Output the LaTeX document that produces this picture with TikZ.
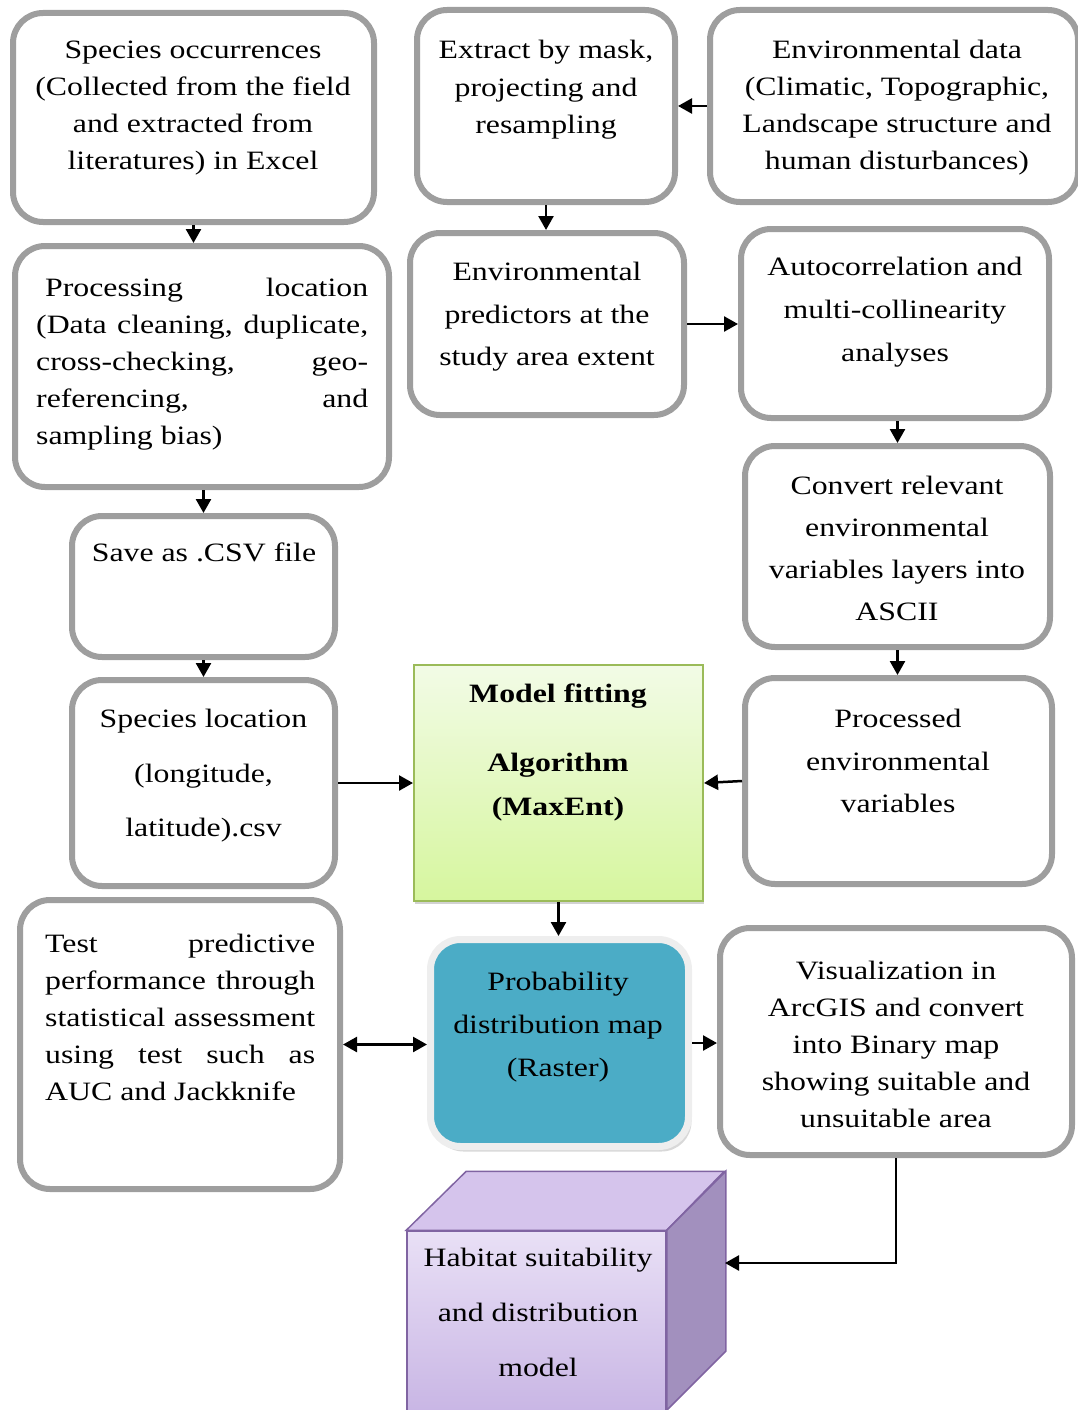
\documentclass[tikz,border=0pt]{standalone}
\usepackage{fontspec}
\setmainfont{Liberation Serif}[FakeStretch=1.2]
\usepackage{tikz}
\usetikzlibrary{arrows.meta}
\usetikzlibrary{shadows}
\definecolor{boxgray}{RGB}{158,158,158}
\definecolor{modelgreen}{RGB}{155,187,89}
\definecolor{modeltop}{RGB}{242,251,230}
\definecolor{modelbottom}{RGB}{214,246,158}
\definecolor{probteal}{RGB}{75,172,198}
\definecolor{probframe}{RGB}{238,238,238}
\definecolor{cubeedge}{RGB}{128,100,162}
\definecolor{cubetop}{RGB}{213,196,236}
\definecolor{cubeside}{RGB}{162,144,190}
\definecolor{cubelight}{RGB}{233,224,246}
\definecolor{cubedark}{RGB}{200,181,228}
\newcommand{\boxfont}[1][37]{\fontsize{26.5}{#1}\selectfont}
\newcommand{\jline}[2]{\makebox[#1][s]{#2}}
\tikzset{
    box/.style={draw=boxgray, line width=6pt, rounded corners=30pt, fill=white},
    txt/.style={anchor=north, inner sep=0pt, align=center, font=\boxfont},
    jtxt/.style={anchor=north west, inner sep=0pt, align=left, font=\boxfont},
    model/.style={draw=modelgreen, line width=2pt, top color=modeltop, bottom color=modelbottom,
        drop shadow={shadow xshift=1pt, shadow yshift=-3pt, fill=black!35}},
    prob/.style={draw=probframe, line width=7pt, rounded corners=30pt, fill=probteal,
        drop shadow={shadow xshift=3pt, shadow yshift=-5pt, fill=black!30}},
    cube/.style={draw=cubeedge, line width=1.5pt},
    link/.style={->, line width=2.5pt},
    dlink/.style={<->, line width=2.5pt}
}

\begin{document}
\begin{tikzpicture}[x=1pt, y=-1pt, >={Triangle[length=14pt, width=15pt]}]
    \useasboundingbox (0,0) rectangle (1078,1410);

    % boxes
    \node[box, minimum width=361pt, minimum height=209pt] (occ) at (193.5,117.5) {};
    \node[box, minimum width=258pt, minimum height=192pt] (extract) at (546,106) {};
    \node[box, minimum width=368pt, minimum height=192pt] (envdata) at (894,106) {};
    \node[box, minimum width=374pt, minimum height=241pt] (proc) at (202,366.5) {};
    \node[box, minimum width=274pt, minimum height=182pt] (pred) at (547,324) {};
    \node[box, minimum width=308pt, minimum height=189pt] (auto) at (895,323.5) {};
    \node[box, minimum width=263pt, minimum height=141pt] (csv) at (203.5,586.5) {};
    \node[box, minimum width=305pt, minimum height=201pt] (conv) at (897.5,546.5) {};
    \node[box, minimum width=263pt, minimum height=206pt] (loc) at (203.5,783) {};
    \node[model, minimum width=289pt, minimum height=236pt] (fit) at (558.5,783) {};
    \node[box, minimum width=307pt, minimum height=206pt] (procenv) at (898.5,781) {};
    \node[box, minimum width=320pt, minimum height=289pt] (test) at (180,1044.5) {};
    \node[prob, minimum width=258pt, minimum height=207pt] (probmap) at (559.5,1043) {};
    \node[box, minimum width=352pt, minimum height=227pt] (vis) at (896,1041.5) {};

    % cube
    \node[cube, top color=cubelight, bottom color=cubedark, minimum width=259pt, minimum height=184pt] (habitat) at (536.5,1323) {};
    \filldraw[cube, fill=cubetop] (habitat.north west) -- +(60,-59) -- +(318,-59) -- (habitat.north east) -- cycle;
    \filldraw[cube, fill=cubeside] (habitat.north east) -- +(59,-59) -- +(59,121) -- +(0,180) -- cycle;
    \coordinate (habitat-side) at (725,1263);

    % texts
    \node[txt] (occ-text) at (193,41) {Species occurrences\\(Collected from the field\\and extracted from\\literatures) in Excel};
    \node[txt, font={\boxfont[37.5]}] (extract-text) at (546,40) {Extract by mask,\\projecting and\\resampling};
    \node[txt] (envdata-text) at (897,40) {Environmental data\\(Climatic, Topographic,\\Landscape structure and\\human disturbances)};
    \node[jtxt] (proc-text) at (36,278) {\jline{332pt}{\hspace*{9pt}Processing\hfill location}\\
        \jline{332pt}{(Data cleaning, duplicate,}\\
        \jline{332pt}{cross-checking,\hfill geo-}\\
        \jline{332pt}{referencing,\hfill and}\\
        sampling bias)};
    \node[txt, font={\boxfont[42.5]}] (pred-text) at (547,262) {Environmental\\predictors at the\\study area extent};
    \node[txt, font={\boxfont[43]}] (auto-text) at (895,257) {Autocorrelation and\\multi-collinearity\\analyses};
    \node[txt] (csv-text) at (204,543) {Save as .CSV file};
    \node[txt, font={\boxfont[42]}] (conv-text) at (897,476) {Convert relevant\\environmental\\variables layers into\\ASCII};
    \node[txt, font={\boxfont[54.5]}] (loc-text) at (203.5,709) {Species location\\(longitude,\\latitude).csv};
    \node[txt, font={\boxfont[44]\bfseries}] (fit-text) at (558,684) {Model fitting\\[25pt]Algorithm\\(MaxEnt)};
    \node[txt, font={\boxfont[42.5]}] (procenv-text) at (898,709) {Processed\\environmental\\variables};
    \node[jtxt] (test-text) at (45,934) {\jline{270pt}{Test\hfill predictive}\\
        \jline{270pt}{performance through}\\
        \jline{270pt}{statistical assessment}\\
        \jline{270pt}{using test such as}\\
        AUC and Jackknife};
    \node[txt, font={\boxfont[43]}] (probmap-text) at (558,972) {Probability\\distribution map\\(Raster)};
    \node[txt] (vis-text) at (896,961) {Visualization in\\ArcGIS and convert\\into Binary map\\showing suitable and\\unsuitable area};
    \node[txt, font={\boxfont[55]}] (habitat-text) at (538,1248) {Habitat suitability\\and distribution\\model};

    % connectors
    \draw[link] (occ.south) -- (occ.south |- proc.north);
    \draw[link] (csv.north |- proc.south) -- (csv.north);
    \draw[link] (csv.south) -- (loc.north);
    \draw[link] (envdata.west) -- (extract.east);
    \draw[link] (extract.south) -- (extract.south |- pred.north);
    \draw[link] (pred.east) -- (pred.east -| auto.west);
    \draw[link] (conv.north |- auto.south) -- (conv.north);
    \draw[link] (conv.south) -- (conv.south |- procenv.north);
    \draw[link] (loc.east) -- (loc.east -| fit.west);
    \draw[link] (procenv.west) -- (fit.east);
    \draw[link] (fit.south) -- (fit.south |- probmap.north);
    \draw[dlink] (test.east) -- (test.east -| probmap.west);
    \draw[link] (probmap.east) -- (probmap.east -| vis.west);
    \draw[link] (vis.south) |- (habitat-side);
\end{tikzpicture}
\end{document}
